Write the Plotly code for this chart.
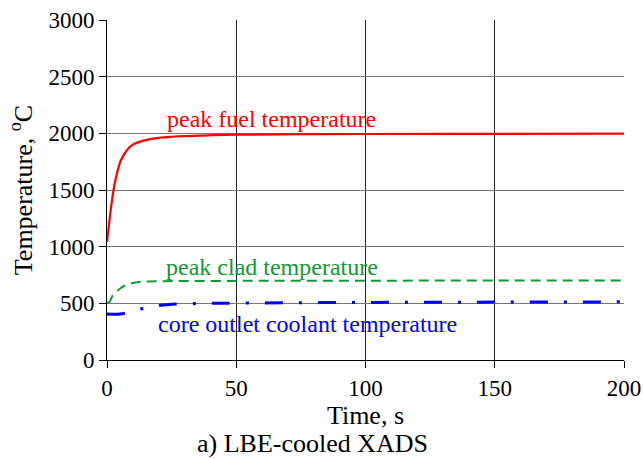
import plotly.graph_objects as go

time_fuel = [0, 1, 2, 3, 4, 5, 6, 8, 10, 12, 15, 20, 25, 30, 40, 50, 75, 100, 150, 200]
peak_fuel = [1040, 1240, 1420, 1560, 1660, 1740, 1790, 1860, 1900, 1920, 1940, 1960, 1970,
             1976, 1983, 1988, 1992, 1994, 1996, 1997]

time_clad = [0, 1, 2, 4, 6, 8, 10, 13, 16, 20, 50, 100, 150, 200]
peak_clad = [505, 514, 560, 610, 645, 668, 680, 690, 693, 695, 698, 700, 701, 702]

time_cool = [0, 5, 8, 11, 14, 18, 24, 35, 50, 100, 150, 200]
core_outlet = [405, 405, 420, 440, 455, 475, 490, 498, 502, 508, 511, 513]

x_ticks = [0, 50, 100, 150, 200]
y_ticks = [0, 500, 1000, 1500, 2000, 2500, 3000]

font = "Liberation Serif, Times New Roman, serif"

fig = go.Figure()
fig.add_trace(go.Scatter(x=time_fuel, y=peak_fuel, mode="lines", line=dict(color="#ff0000", width=2.2, shape="spline"), showlegend=False))
fig.add_trace(go.Scatter(x=time_clad, y=peak_clad, mode="lines", line=dict(color="#119933", width=2, dash="10px,6px", shape="spline"), showlegend=False))
fig.add_trace(go.Scatter(x=time_cool, y=core_outlet, mode="lines", line=dict(color="#0000ff", width=3, dash="18px,16px,3px,16px", shape="spline"), showlegend=False))

fig.add_annotation(x=63.8, y=2126, text="peak fuel temperature", showarrow=False, font=dict(color="#ff0000", size=24, family=font))
fig.add_annotation(x=63.8, y=820, text="peak clad temperature", showarrow=False, font=dict(color="#119933", size=24, family=font))
fig.add_annotation(x=77.4, y=318, text="core outlet coolant temperature", showarrow=False, font=dict(color="#0000ff", size=24, family=font))
fig.add_annotation(x=312, y=443, xref="paper", yref="paper", xanchor="center", yanchor="middle",
                   text="a) LBE-cooled XADS", showarrow=False, font=dict(color="black", size=26, family=font))

fig.update_layout(
    width=643, height=459,
    margin=dict(l=107, r=19, t=20, b=99),
    plot_bgcolor="white", paper_bgcolor="white",
    font=dict(family=font, size=23, color="black"),
)
# convert caption position from pixels to paper coords
fig.layout.annotations[3].x = (312 - 107) / (643 - 107 - 19)
fig.layout.annotations[3].y = -(443 - (459 - 99)) / (459 - 99 - 20)

fig.update_xaxes(range=[0, 200], tickvals=x_ticks, showgrid=True, gridcolor="#222222", gridwidth=1,
                 showline=True, linecolor="black", linewidth=1, ticks="outside", ticklen=7, tickcolor="black",
                 zeroline=False, automargin=False,
                 title=dict(text="Time, s", standoff=4, font=dict(size=26)))
fig.update_yaxes(range=[0, 3000], tickvals=y_ticks, showgrid=True, gridcolor="#777777", gridwidth=1,
                 showline=True, linecolor="black", linewidth=1, ticks="outside", ticklen=7, tickcolor="black",
                 zeroline=False, automargin=False,
                 title=dict(text="Temperature, <sup>o</sup>C", standoff=8, font=dict(size=26)))

fig.write_html("out.html")
